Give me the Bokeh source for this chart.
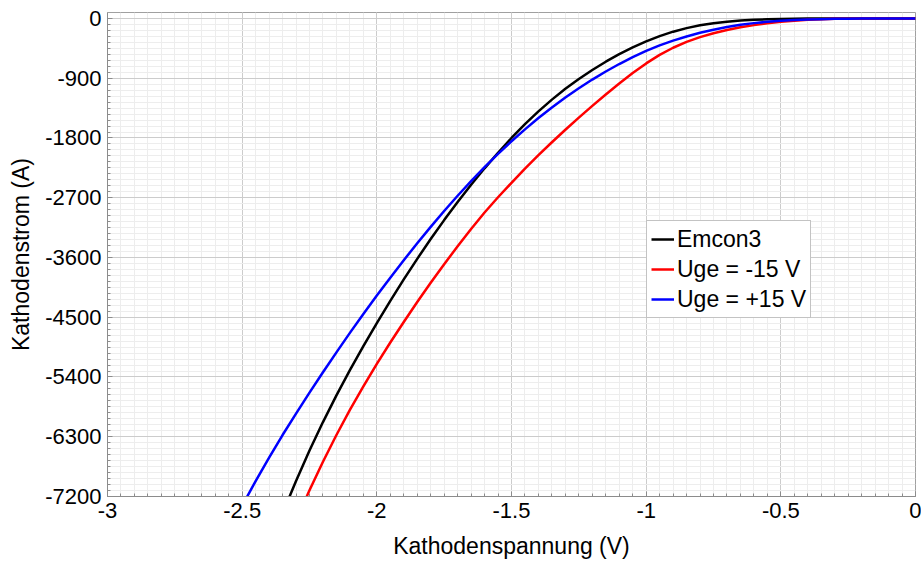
import numpy as np
from bokeh.plotting import figure
from bokeh.models import Range1d, FixedTicker
from bokeh.embed import file_html
from bokeh.resources import INLINE

# Cathode voltage (V) and cathode current (A) for each characteristic
emcon3_v = [-2.40, -2.35, -2.30, -2.25, -2.20, -2.15, -2.10, -2.05, -2.00, -1.95,
            -1.90, -1.85, -1.80, -1.75, -1.70, -1.65, -1.60, -1.55, -1.50, -1.45,
            -1.40, -1.35, -1.30, -1.25, -1.20, -1.15, -1.10, -1.05, -1.00, -0.95,
            -0.90, -0.85, -0.80, -0.75, -0.70, -0.65, -0.60, -0.55, -0.50, -0.45,
            -0.40, -0.35, -0.30, 0.00]
emcon3_i = [-7979, -7455, -6965, -6507, -6079, -5677, -5297, -4935, -4587, -4252,
            -3930, -3620, -3322, -3037, -2765, -2505, -2257, -2022, -1800, -1592,
            -1400, -1222, -1060, -912, -776, -651, -537, -435, -345, -266,
            -199, -145, -103, -72, -49, -32, -20, -12, -7, -4,
            -2, -1, 0, 0]

uge_neg_v = [-2.30, -2.25, -2.20, -2.15, -2.10, -2.05, -2.00, -1.95, -1.90, -1.85,
             -1.80, -1.75, -1.70, -1.65, -1.60, -1.55, -1.50, -1.45, -1.40, -1.35,
             -1.30, -1.25, -1.20, -1.15, -1.10, -1.05, -1.00, -0.95, -0.90, -0.85,
             -0.80, -0.75, -0.70, -0.65, -0.60, -0.55, -0.50, -0.45, -0.40, -0.35,
             -0.30, -0.25, -0.20, -0.15, 0.00]
uge_neg_i = [-7561, -7106, -6676, -6274, -5896, -5541, -5203, -4881, -4571, -4271,
             -3981, -3701, -3431, -3171, -2923, -2693, -2475, -2262, -2059, -1864,
             -1676, -1494, -1317, -1145, -979, -822, -677, -549, -441, -353,
             -281, -222, -173, -133, -100, -73, -51, -34, -21, -12,
             -6, -3, -1, 0, 0]

uge_pos_v = [-2.55, -2.50, -2.45, -2.40, -2.35, -2.30, -2.25, -2.20, -2.15, -2.10,
             -2.05, -2.00, -1.95, -1.90, -1.85, -1.80, -1.75, -1.70, -1.65, -1.60,
             -1.55, -1.50, -1.45, -1.40, -1.35, -1.30, -1.25, -1.20, -1.15, -1.10,
             -1.05, -1.00, -0.95, -0.90, -0.85, -0.80, -0.75, -0.70, -0.65, -0.60,
             -0.55, -0.50, -0.45, -0.40, -0.35, -0.30, -0.25, -0.20, -0.15, 0.00]
uge_pos_i = [-7724, -7339, -6969, -6614, -6274, -5951, -5636, -5329, -5029, -4736,
             -4451, -4174, -3904, -3641, -3386, -3139, -2900, -2670, -2450, -2240,
             -2040, -1850, -1670, -1500, -1340, -1190, -1050, -920, -799, -686,
             -582, -487, -405, -333, -271, -216, -169, -129, -96, -70,
             -50, -35, -24, -16, -10, -6, -3, -1, 0, 0]

series_labels = ["Emcon3", "Uge = -15 V", "Uge = +15 V"]
series_colors = ["#000000", "#ff0000", "#0000ff"]

x_ticks = [-3, -2.5, -2, -1.5, -1, -0.5, 0]
x_tick_labels = ["-3", "-2.5", "-2", "-1.5", "-1", "-0.5", "0"]
y_ticks = [0, -900, -1800, -2700, -3600, -4500, -5400, -6300, -7200]
y_tick_labels = ["0", "-900", "-1800", "-2700", "-3600", "-4500", "-5400", "-6300", "-7200"]

FONT = "Liberation Sans"

p = figure(width=921, height=563,
           x_range=Range1d(-3, 0), y_range=Range1d(-7200, 90),
           output_backend="svg", toolbar_location=None,
           min_border_left=107, min_border_right=6,
           min_border_top=12, min_border_bottom=67,
           background_fill_color="white", border_fill_color="white")

p.outline_line_color = "#a0a0a0"
p.outline_line_width = 1

x_minor = [round(v, 2) for v in np.arange(-3.0, 0.001, 0.05)]
y_minor = [int(v) for v in np.arange(-7200, 1, 90)]
p.xaxis.ticker = FixedTicker(ticks=x_ticks, minor_ticks=x_minor)
p.yaxis.ticker = FixedTicker(ticks=y_ticks, minor_ticks=y_minor)
p.xaxis.major_label_overrides = {t: l for t, l in zip(x_ticks, x_tick_labels)}
p.yaxis.major_label_overrides = {t: l for t, l in zip(y_ticks, y_tick_labels)}

p.xaxis.axis_label = "Kathodenspannung (V)"
p.yaxis.axis_label = "Kathodenstrom (A)"

for ax in (p.xaxis, p.yaxis):
    ax.axis_label_text_font = FONT
    ax.axis_label_text_font_size = "23px"
    ax.axis_label_text_font_style = "normal"
    ax.axis_label_text_color = "#000000"
    ax.major_label_text_font = FONT
    ax.major_label_text_font_size = "22px"
    ax.major_label_text_color = "#000000"
    ax.axis_line_color = "#8c8c8c"
    ax.major_tick_line_color = "#8c8c8c"
    ax.minor_tick_line_color = "#8c8c8c"
    ax.major_tick_in = 5
    ax.major_tick_out = 0
    ax.minor_tick_in = 3
    ax.minor_tick_out = 0
    ax.major_label_standoff = 6
p.xaxis.axis_label_standoff = 12
p.yaxis.axis_label_standoff = 8

for g in (p.xgrid, p.ygrid):
    g.grid_line_color = "#cccccc"
    g.grid_line_width = 1
    g.minor_grid_line_color = "#ededed"
    g.minor_grid_line_width = 1

p.line(emcon3_v, emcon3_i, line_color=series_colors[0], line_width=2.5,
       line_join="round", legend_label=series_labels[0])
p.line(uge_neg_v, uge_neg_i, line_color=series_colors[1], line_width=2.5,
       line_join="round", legend_label=series_labels[1])
p.line(uge_pos_v, uge_pos_i, line_color=series_colors[2], line_width=2.5,
       line_join="round", legend_label=series_labels[2])

lg = p.legend[0]
lg.location = (539, 178)
lg.border_line_color = "#888888"
lg.border_line_width = 1
lg.background_fill_color = "white"
lg.background_fill_alpha = 1.0
lg.label_text_font = FONT
lg.label_text_font_size = "23px"
lg.label_text_color = "#000000"
lg.glyph_width = 23
lg.glyph_height = 28
lg.label_height = 28
lg.label_standoff = 3
lg.spacing = 2
lg.padding = 4
lg.margin = 0

open("out.html", "w").write(file_html(p, INLINE))
